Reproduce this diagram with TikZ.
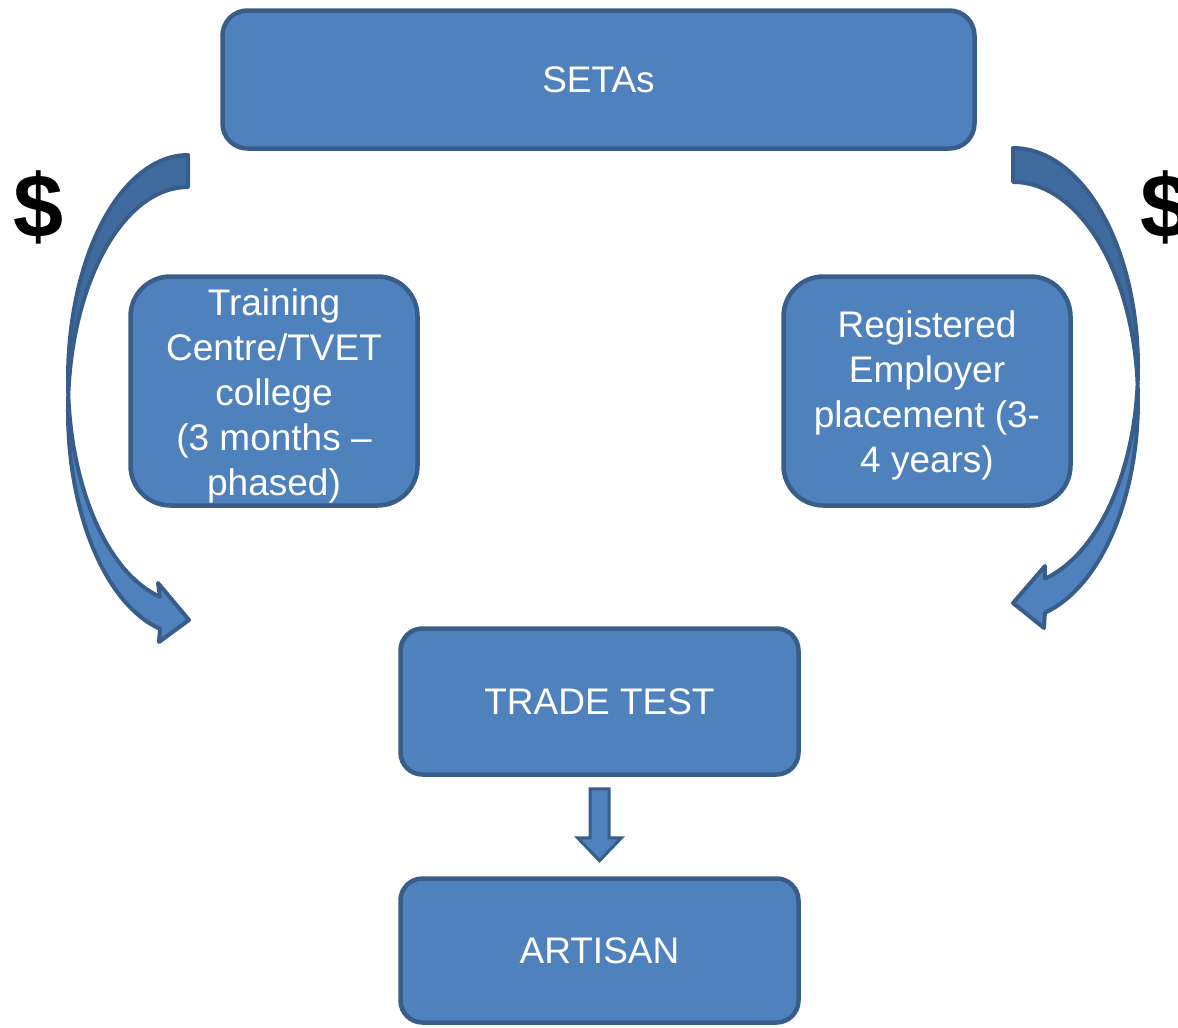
\documentclass[tikz,border=0pt]{standalone}
\usepackage{fontspec}
\setmainfont{Liberation Sans}
\definecolor{boxfill}{HTML}{4F81BD}
\definecolor{boxline}{HTML}{385D8A}
\definecolor{backfill}{HTML}{3E6A9E}
\begin{document}
\begin{tikzpicture}[x=1pt,y=-1pt,
  box/.style={rectangle, draw=boxline, fill=boxfill, line width=4.5pt, text=white,
    inner sep=0pt, align=center, font=\fontsize{37}{45}\selectfont},
  band/.style={draw=boxline, line width=4pt, line join=round},
  smallarrow/.style={draw=boxline, fill=boxfill, line width=3pt, line join=miter},
  dollar/.style={font=\fontsize{90}{90}\selectfont\bfseries, text=black, inner sep=0pt}]
\useasboundingbox (0,0) rectangle (1178,1028);

% boxes
\node[box, rounded corners=25pt, minimum width=752pt, minimum height=138pt] (setas) at (598.5,79.5) {SETAs};
\node[box, rounded corners=40pt, minimum width=287pt, minimum height=229pt] (train) at (274,391)
  {\rule{0pt}{36pt}Training\\Centre/TVET\\college\\(3 months --\\phased)};
\node[box, rounded corners=40pt, minimum width=287pt, minimum height=229pt] (reg) at (927,391)
  {\rule{0pt}{36pt}Registered\\Employer\\placement (3-\\4 years)};
\node[box, rounded corners=22pt, minimum width=398pt, minimum height=146pt] (trade) at (599.5,701.5) {TRADE TEST};
\node[box, rounded corners=22pt, minimum width=398pt, minimum height=144pt] (artisan) at (599.5,950.5) {ARTISAN};

% left curved arrow (back part, then front part)
\path[band, fill=backfill] (188,155)
  arc[start angle=270, end angle=175.9, x radius=120, y radius=224]
  arc[start angle=184.1, end angle=270, x radius=120, y radius=224] -- cycle;
\path[band, fill=boxfill] (68.3,395)
  arc[start angle=184.1, end angle=103.5, x radius=120, y radius=224]
  -- (159,642) -- (189,620) -- (158,583) -- (160,596.8)
  arc[start angle=103.5, end angle=175.9, x radius=120, y radius=224] -- cycle;

% right curved arrow
\path[band, fill=backfill] (1013,148)
  arc[start angle=270, end angle=364.45, x radius=125, y radius=219]
  arc[start angle=355.55, end angle=270, x radius=125, y radius=219] -- cycle;
\path[band, fill=boxfill] (1137.6,384)
  arc[start angle=-4.45, end angle=75.2, x radius=125, y radius=219]
  -- (1044,628) -- (1013,603) -- (1045,566) -- (1044.9,578.7)
  arc[start angle=75.2, end angle=4.45, x radius=125, y radius=219] -- cycle;

% dollar signs
\node[dollar] (dl) at (39,207) {\$};
\node[dollar] (dr) at (1166,207) {\$};

% small down arrow from TRADE TEST to ARTISAN
\path[smallarrow]
  ([shift={(-9.5,12)}]trade.south) -- ([shift={(9.5,12)}]trade.south)
  -- ([shift={(9.5,61)}]trade.south) -- ([shift={(22,61)}]trade.south)
  -- ([shift={(0,84)}]trade.south) -- ([shift={(-22,61)}]trade.south)
  -- ([shift={(-9.5,61)}]trade.south) -- cycle;
\end{tikzpicture}
\end{document}
